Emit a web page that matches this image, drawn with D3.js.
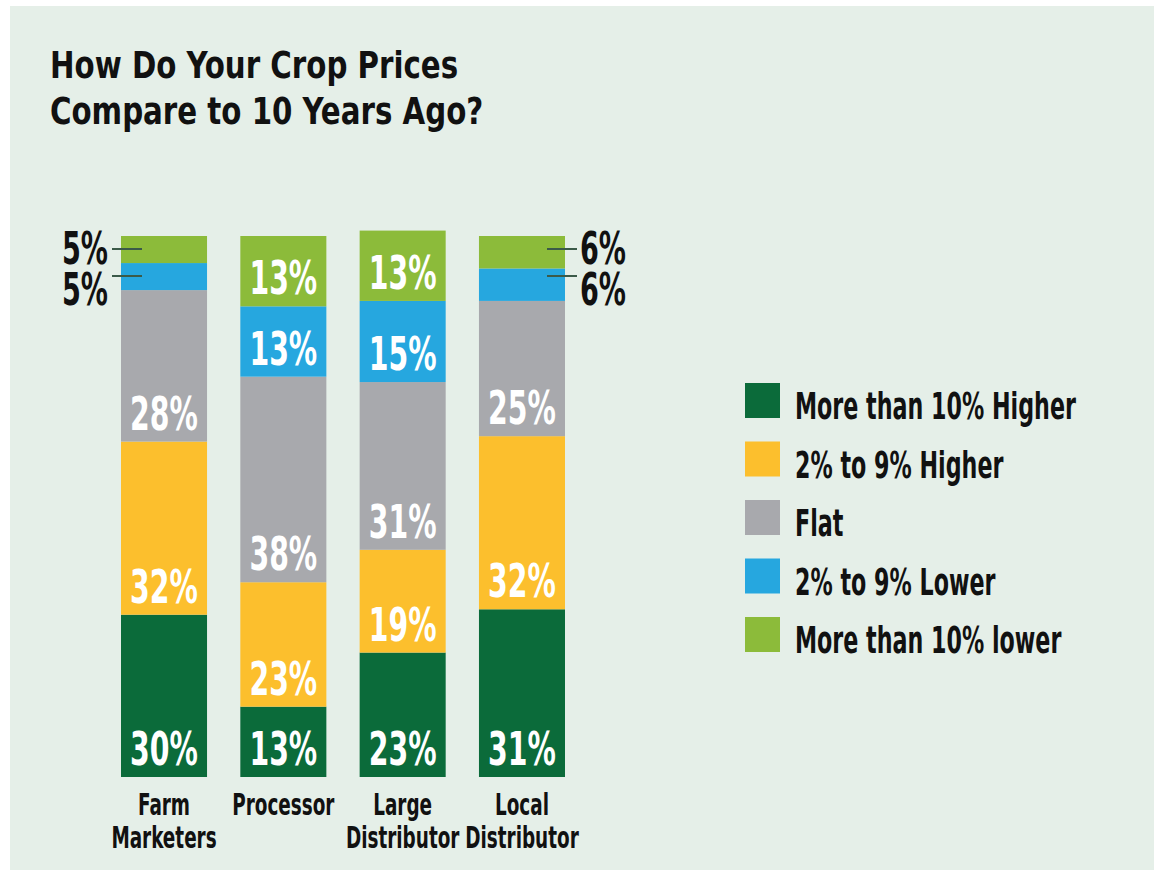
<!DOCTYPE html>
<html>
<head>
<meta charset="utf-8">
<script src="https://cdn.jsdelivr.net/npm/d3@7"></script>
<style>
  html, body { margin: 0; padding: 0; background: #ffffff; }
  svg { display: block; }
  text { font-family: "DejaVu Sans Condensed", "DejaVu Sans", sans-serif; font-weight: bold; }
</style>
</head>
<body>
<svg id="chart" width="1154" height="870"></svg>
<script>
const categories = ["Farm Marketers", "Processor", "Large Distributor", "Local Distributor"];
const categoryLines = [["Farm", "Marketers"], ["Processor"], ["Large", "Distributor"], ["Local", "Distributor"]];
const seriesNames = ["More than 10% Higher", "2% to 9% Higher", "Flat", "2% to 9% Lower", "More than 10% lower"];
const moreThan10Higher = [30, 13, 23, 31];
const higher2to9 = [32, 23, 19, 32];
const flat = [28, 38, 31, 25];
const lower2to9 = [5, 13, 15, 6];
const moreThan10Lower = [5, 13, 13, 6];
const seriesColors = ["#0b6b3a", "#fcbf2d", "#a8a9ad", "#26a7df", "#8cbb3a"];
const titleLines = ["How Do Your Crop Prices", "Compare to 10 Years Ago?"];

const seriesValues = [moreThan10Higher, higher2to9, flat, lower2to9, moreThan10Lower];
const keys = seriesNames;
const table = categories.map((c, i) => {
  const row = { category: c };
  keys.forEach((k, j) => row[k] = seriesValues[j][i]);
  return row;
});

const svg = d3.select("#chart");
svg.append("rect").attr("x", 10).attr("y", 6).attr("width", 1144).attr("height", 864).attr("fill", "#e5efe8");

// title
titleLines.forEach((t, i) => {
  svg.append("text")
    .attr("transform", `translate(50,${78 + i * 46}) scale(0.88,1)`)
    .attr("font-size", 37)
    .attr("fill", "#111")
    .text(t);
});

const x = d3.scaleBand().domain(categories).range([121, 565]).paddingInner(0.279).paddingOuter(0);
const y = d3.scaleLinear().domain([0, 100]).range([777, 236]);

const stack = d3.stack().keys(keys)(table);

const layers = svg.append("g").selectAll("g").data(stack).join("g")
  .attr("fill", (d, i) => seriesColors[i]);

layers.selectAll("rect").data(d => d).join("rect")
  .attr("x", d => x(d.data.category))
  .attr("y", d => y(d[1]))
  .attr("width", x.bandwidth())
  .attr("height", d => y(d[0]) - y(d[1]));

// inner labels
const labelScale = 0.67;
stack.forEach((layer) => {
  layer.forEach((d) => {
    const v = d[1] - d[0];
    if (v < 10) return;
    const cx = x(d.data.category) + x.bandwidth() / 2;
    svg.append("text")
      .attr("transform", `translate(${cx},${y(d[0]) - 12}) scale(${labelScale},1)`)
      .attr("text-anchor", "middle")
      .attr("font-size", 47)
      .attr("fill", "#ffffff")
      .text(v + "%");
  });
});

// outside labels with leader lines for small segments
const smallLayers = [3, 4];
categories.forEach((c, i) => {
  const small = smallLayers.map(li => stack[li][i]).filter(d => d[1] - d[0] < 10);
  if (!small.length) return;
  const left = i === 0;
  const barTop = y(stack[4][i][1]);
  const ordered = small.slice().reverse();
  ordered.forEach((d, k) => {
    const v = d[1] - d[0];
    const lineY = barTop + 13 + k * 27;
    const x0 = left ? x(c) - 9 : x(c) + x.bandwidth() - 18;
    const x1 = left ? x(c) + 21 : x(c) + x.bandwidth() + 12;
    svg.append("line")
      .attr("x1", x0).attr("x2", x1).attr("y1", lineY).attr("y2", lineY)
      .attr("stroke", "#3b5a48").attr("stroke-width", 2);
    const tx = left ? x(c) - 13 : x(c) + x.bandwidth() + 15;
    svg.append("text")
      .attr("transform", `translate(${tx},${barTop + 28 + k * 41}) scale(${labelScale},1)`)
      .attr("text-anchor", left ? "end" : "start")
      .attr("font-size", 45)
      .attr("fill", "#111")
      .text(v + "%");
  });
});

// category labels
categories.forEach((c, i) => {
  const cx = x(c) + x.bandwidth() / 2;
  categoryLines[i].forEach((line, k) => {
    svg.append("text")
      .attr("transform", `translate(${cx},${815 + k * 33}) scale(0.66,1)`)
      .attr("text-anchor", "middle")
      .attr("font-size", 31)
      .attr("fill", "#111")
      .text(line);
  });
});

// legend
const legend = svg.append("g");
seriesNames.forEach((name, i) => {
  const ly = 383 + i * 58.5;
  legend.append("rect").attr("x", 745).attr("y", ly).attr("width", 35).attr("height", 35).attr("fill", seriesColors[i]);
  legend.append("text")
    .attr("transform", `translate(795,${ly + 36}) scale(0.65,1)`)
    .attr("font-size", 38)
    .attr("fill", "#111")
    .text(name);
});
</script>
</body>
</html>
